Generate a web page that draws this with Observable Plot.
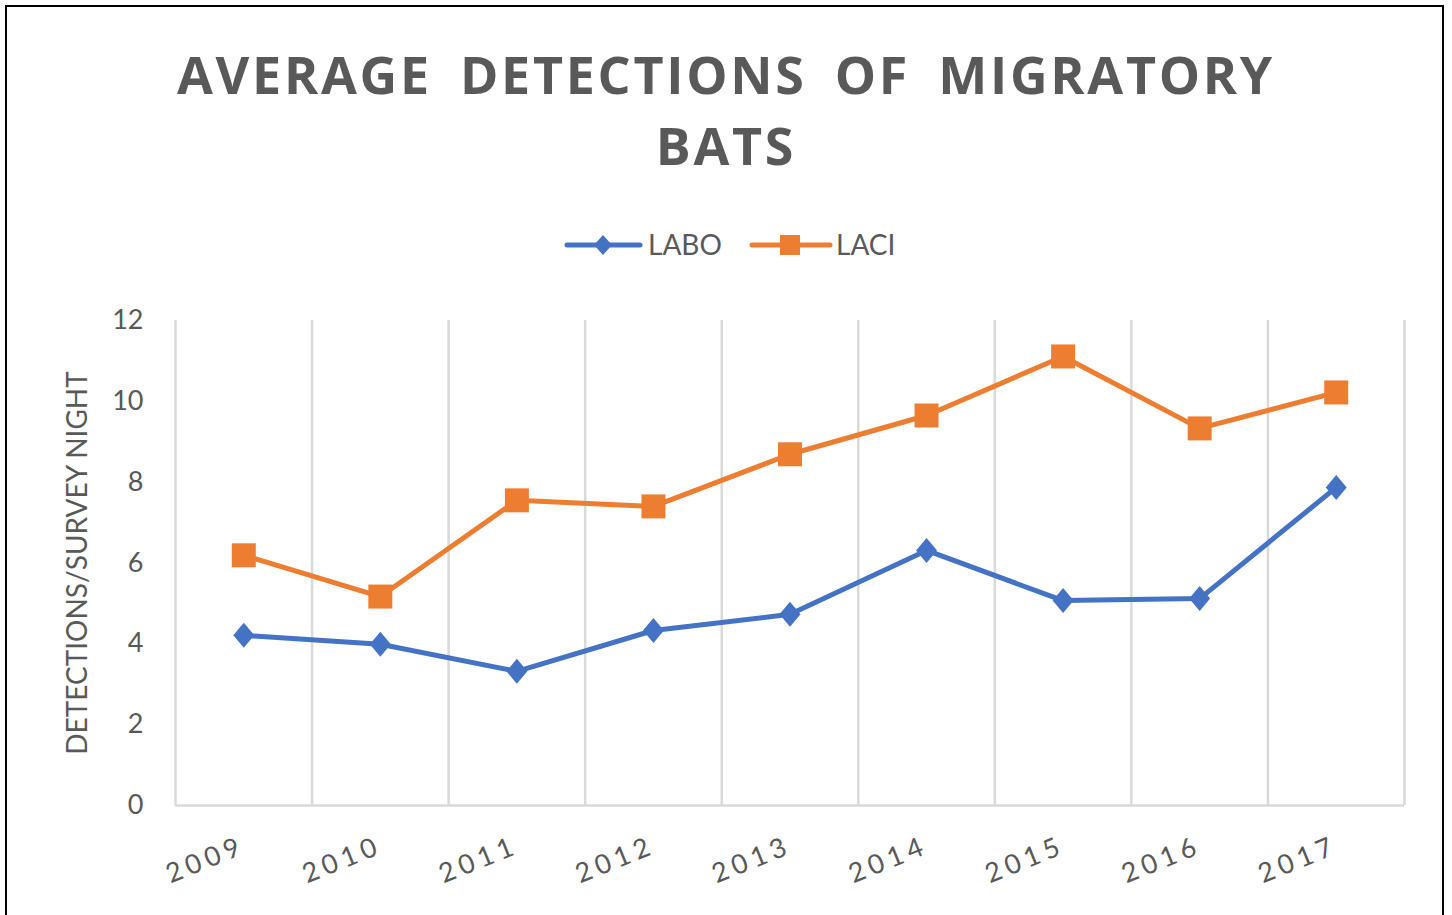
<!DOCTYPE html>
<html>
<head>
<meta charset="utf-8">
<script src="https://cdn.jsdelivr.net/npm/d3@7"></script>
<script src="https://cdn.jsdelivr.net/npm/@observablehq/plot@0.6"></script>
<style>
  html, body { margin: 0; padding: 0; background: #fff; overflow: hidden; }
  #page { position: relative; width: 1452px; height: 915px; overflow: hidden; background: #fff; }
  #frame { position: absolute; left: 5px; top: 5px; width: 1439px; height: 940px; border: 2px solid #000; box-sizing: border-box; }
  #title { position: absolute; left: 0; width: 1452px; top: 38px; text-align: center; font-family: "Open Sans", sans-serif; font-weight: 700; font-size: 52px; line-height: 71px; letter-spacing: 2.7px; word-spacing: 12px; color: #595959; }
  #legend { position: absolute; top: 226px; left: 0; width: 1452px; height: 40px; }
  #chart { position: absolute; left: 0; top: 280px; }
  #chart svg [aria-label="x-axis tick label"] text { letter-spacing: 5px; }
</style>
</head>
<body>
<div id="page">
  <div id="frame"></div>
  <div id="title">AVERAGE DETECTIONS OF MIGRATORY<br>BATS</div>
  <svg id="legend" width="1452" height="40"></svg>
  <div id="chart"></div>
</div>
<script>
const years = [2009, 2010, 2011, 2012, 2013, 2014, 2015, 2016, 2017];
const labo = [4.21, 3.99, 3.32, 4.33, 4.73, 6.31, 5.07, 5.12, 7.87];
const laci = [6.19, 5.17, 7.55, 7.40, 8.69, 9.65, 11.11, 9.33, 10.22];
const yTicks = [0, 2, 4, 6, 8, 10, 12];
const seriesNames = ["LABO", "LACI"];
const seriesColors = ["#4472c4", "#ed7d31"];

const gridX = d3.range(years[0] - 0.5, years[years.length - 1] + 1, 1);

const dataLabo = years.map((y, i) => ({year: y, value: labo[i]}));
const dataLaci = years.map((y, i) => ({year: y, value: laci[i]}));

const diamond = {
  draw(context, size) {
    const w = 10.5, h = 12.5;
    context.moveTo(0, -h);
    context.lineTo(w, 0);
    context.lineTo(0, h);
    context.lineTo(-w, 0);
    context.closePath();
  }
};
const square = {
  draw(context, size) {
    const s = 12;
    context.rect(-s, -s, 2 * s, 2 * s);
  }
};

const chart = Plot.plot({
  width: 1452,
  height: 630,
  marginLeft: 175,
  marginRight: 48,
  marginTop: 40,
  marginBottom: 105,
  style: { fontFamily: "Lato, 'Open Sans', sans-serif", color: "#595959", background: "transparent" },
  x: { type: "linear", domain: [years[0] - 0.5, years[years.length - 1] + 0.5] },
  y: { domain: [0, 12] },
  marks: [
    Plot.ruleX(gridX, { stroke: "#d9d9d9", strokeWidth: 2.5, y1: 0, y2: 12 }),
    Plot.ruleY([0], { stroke: "#d9d9d9", strokeWidth: 2.5, x1: gridX[0], x2: gridX[gridX.length - 1] }),
    Plot.axisY({ ticks: yTicks, tickSize: 0, tickPadding: 32, fontSize: 27, label: null, fill: "#595959" }),
    Plot.axisX({ ticks: years, tickFormat: d => String(d), tickSize: 0, tickPadding: 39, tickRotate: -22, fontSize: 27, label: null, fill: "#595959" }),
    Plot.text(["DETECTIONS/SURVEY NIGHT"], { frameAnchor: "left", textAnchor: "middle", dx: -97, rotate: -90, fontSize: 28, fill: "#595959" }),
    Plot.line(dataLaci, { x: "year", y: "value", stroke: seriesColors[1], strokeWidth: 5 }),
    Plot.dot(dataLaci, { x: "year", y: "value", symbol: square, fill: seriesColors[1], r: 10 }),
    Plot.line(dataLabo, { x: "year", y: "value", stroke: seriesColors[0], strokeWidth: 5 }),
    Plot.dot(dataLabo, { x: "year", y: "value", symbol: diamond, fill: seriesColors[0], r: 10 })
  ]
});
document.getElementById("chart").appendChild(chart);

// Legend
const leg = d3.select("#legend");
const items = [
  { name: seriesNames[0], color: seriesColors[0], x0: 567, x1: 640, mx: 603, text: 648, sym: "diamond" },
  { name: seriesNames[1], color: seriesColors[1], x0: 752, x1: 830, mx: 790, text: 836, sym: "square" }
];
items.forEach(it => {
  leg.append("line").attr("x1", it.x0).attr("x2", it.x1).attr("y1", 19).attr("y2", 19)
    .attr("stroke", it.color).attr("stroke-width", 5).attr("stroke-linecap", "round");
  if (it.sym === "diamond") {
    leg.append("path").attr("d", `M${it.mx},${19 - 10}L${it.mx + 9},19L${it.mx},${19 + 10}L${it.mx - 9},19Z`).attr("fill", it.color);
  } else {
    leg.append("rect").attr("x", it.mx - 10).attr("y", 9).attr("width", 20).attr("height", 20).attr("fill", it.color);
  }
  leg.append("text").attr("x", it.text).attr("y", 29).text(it.name)
    .attr("font-family", "Lato, 'Open Sans', sans-serif").attr("font-size", 28).attr("fill", "#595959");
});
</script>
</body>
</html>
